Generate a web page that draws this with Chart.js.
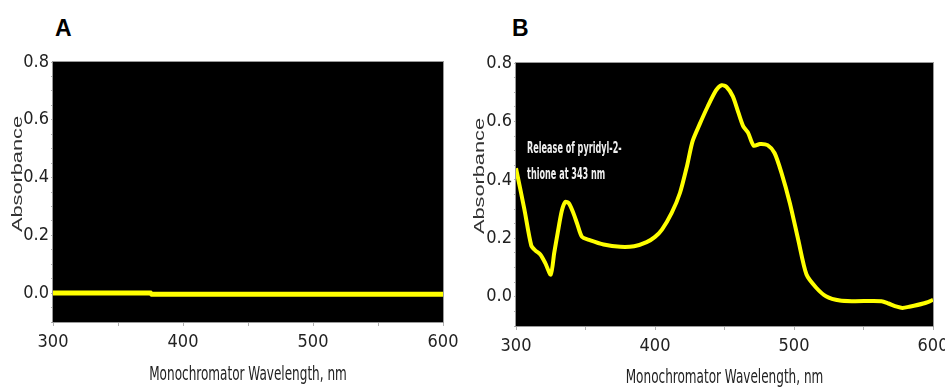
<!DOCTYPE html>
<html>
<head>
<meta charset="utf-8">
<script src="https://cdn.jsdelivr.net/npm/chart.js@4.4.1/dist/chart.umd.min.js"></script>
<style>
  html, body { margin: 0; padding: 0; background: #fff; overflow: hidden; width: 945px; height: 388px; }
  .panel { position: absolute; top: 0; }
  .letter { position: absolute; top: 15px; font: bold 23px "Liberation Sans", Arial, sans-serif; color: #000; }
</style>
</head>
<body>
<div class="letter" style="left:55px">A</div>
<div class="letter" style="left:512px">B</div>
<canvas id="chartA" class="panel" style="left:0px" width="470" height="388"></canvas>
<canvas id="chartB" class="panel" style="left:470px" width="490" height="388"></canvas>
<script>
// panel A - no release
const wavelengthsA = [300, 375, 376, 600];
const absorbanceA = [0.0, 0.0, -0.004, -0.004];

// panel B - release of pyridyl-2-thione
const wavelengthsB = [300, 306, 311, 314, 317.5, 321, 325, 327.5, 330, 333, 335.5, 338, 341, 344, 347.5,
    353, 363, 375, 385, 394, 400, 405, 412, 418, 423, 427, 432, 438, 444, 448, 451.5, 456, 460,
    463.5, 467, 471, 475.5, 481, 486, 491, 497, 503, 509, 516, 523, 533, 543, 563, 568, 574, 578,
    583, 593, 600];
const absorbanceB = [0.44, 0.30, 0.175, 0.158, 0.145, 0.116, 0.076, 0.15, 0.219, 0.295, 0.325, 0.32, 0.29, 0.25, 0.205,
    0.194, 0.179, 0.171, 0.173, 0.187, 0.205, 0.230, 0.287, 0.356, 0.447, 0.532, 0.589, 0.652, 0.707, 0.724, 0.718, 0.686, 0.63,
    0.583, 0.561, 0.517, 0.523, 0.519, 0.492, 0.424, 0.321, 0.196, 0.076, 0.031, 0.002, -0.013, -0.015, -0.015, -0.023, -0.034, -0.038,
    -0.034, -0.023, -0.011];

const noteLines = ['Release of pyridyl-2-', 'thione at 343 nm'];
const noteAt = { x: 308, y: [0.504, 0.418] };

const xTitle = 'Monochromator Wavelength, nm';
const yTitle = 'Absorbance';

const narrow = "'DejaVu Sans Condensed', 'Liberation Sans Narrow', sans-serif";

const plotBox = {
    id: 'plotBox',
    beforeDatasetsDraw(chart) {
        const a = chart.chartArea;
        const ctx = chart.ctx;
        ctx.save();
        ctx.fillStyle = '#000';
        ctx.fillRect(a.left, a.top, a.right - a.left, a.bottom - a.top);
        ctx.restore();
    },
    afterDraw(chart) {
        const a = chart.chartArea;
        const ctx = chart.ctx;
        ctx.save();
        ctx.strokeStyle = '#9a9a9a';
        ctx.lineWidth = 1;
        ctx.strokeRect(a.left - 0.5, a.top - 0.5, a.right - a.left + 1, a.bottom - a.top + 1);
        ctx.restore();
    }
};

// axis titles and note, squeezed sideways like the original export
const textPlugin = {
    id: 'texts',
    afterDraw(chart) {
        const o = chart.options.plugins.texts;
        const a = chart.chartArea;
        const ctx = chart.ctx;
        ctx.save();
        ctx.textAlign = 'center';
        ctx.textBaseline = 'middle';

        ctx.fillStyle = '#222';
        ctx.font = '20px ' + narrow;
        ctx.save();
        ctx.translate((a.left + a.right) / 2, o.xTitleY);
        ctx.scale(0.67, 1);
        ctx.fillText(xTitle, 0, 0);
        ctx.restore();

        ctx.fillStyle = '#333';
        ctx.font = "15px 'Liberation Sans', Arial, sans-serif";
        ctx.save();
        ctx.translate(o.yTitleX, o.yTitleY);
        ctx.rotate(-Math.PI / 2);
        ctx.scale(1.45, 1);
        ctx.fillText(yTitle, 0, 0);
        ctx.restore();

        if (o.note) {
            const xs = chart.scales.x, ys = chart.scales.y;
            ctx.fillStyle = '#f0f0f0';
            ctx.font = 'bold 15px ' + narrow;
            ctx.textAlign = 'left';
            noteLines.forEach((t, i) => {
                ctx.save();
                ctx.translate(xs.getPixelForValue(noteAt.x), ys.getPixelForValue(noteAt.y[i]));
                ctx.scale(0.6, 1);
                ctx.fillText(t, 0, 0);
                ctx.restore();
            });
        }
        ctx.restore();
    }
};

function makeChart(id, xs, ys, opts) {
    const points = xs.map((x, i) => ({ x: x, y: ys[i] }));
    return new Chart(document.getElementById(id), {
        type: 'line',
        data: {
            datasets: [{
                data: points,
                borderColor: '#ffff00',
                borderWidth: opts.lineWidth,
                pointRadius: 0,
                tension: opts.tension,
                fill: false
            }]
        },
        options: {
            responsive: false,
            animation: false,
            layout: { padding: { left: 0, right: opts.padRight, top: opts.padTop, bottom: 0 } },
            plugins: {
                legend: { display: false },
                tooltip: { enabled: false },
                texts: opts.texts
            },
            scales: {
                x: {
                    type: 'linear',
                    min: 300,
                    max: 600,
                    afterFit: s => { s.height = opts.xHeight; },
                    border: { color: '#9a9a9a' },
                    grid: { drawOnChartArea: false, tickLength: 4, color: '#b0b0b0' },
                    ticks: {
                        stepSize: 50,
                        padding: 6,
                        autoSkip: false,
                        maxRotation: 0,
                        color: '#222',
                        font: { family: narrow, size: 18 },
                        callback: v => (v % 100 === 0 ? String(v) : '')
                    }
                },
                y: {
                    min: -0.1,
                    max: 0.8,
                    afterFit: s => { s.width = opts.yWidth; },
                    border: { color: '#9a9a9a' },
                    grid: { drawOnChartArea: false, tickLength: 2, color: '#b0b0b0' },
                    ticks: {
                        stepSize: 0.05,
                        padding: 2,
                        autoSkip: false,
                        color: '#222',
                        font: { family: narrow, size: 18 },
                        callback: v => {
                            const k = Math.round(v * 20);
                            return (k >= 0 && k % 4 === 0) ? (k / 20).toFixed(1) : '';
                        }
                    }
                }
            }
        },
        plugins: [plotBox, textPlugin]
    });
}

makeChart('chartA', wavelengthsA, absorbanceA, {
    lineWidth: 5, tension: 0, padRight: 27, padTop: 62, xHeight: 66, yWidth: 53,
    texts: { xTitleY: 375, yTitleX: 18, yTitleY: 174, note: false }
});
makeChart('chartB', wavelengthsB, absorbanceB, {
    lineWidth: 4, tension: 0.25, padRight: 27, padTop: 63, xHeight: 62, yWidth: 46,
    texts: { xTitleY: 378, yTitleX: 10, yTitleY: 176, note: true }
});
</script>
</body>
</html>
